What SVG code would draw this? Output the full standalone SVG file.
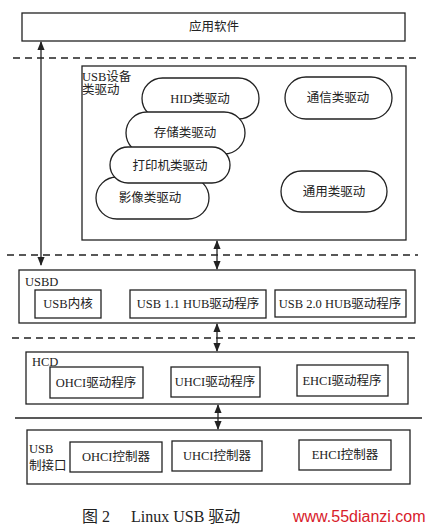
<svg xmlns="http://www.w3.org/2000/svg" width="430" height="528" viewBox="0 0 430 528">
<style>
.box{fill:#fff;stroke:#222;stroke-width:1.3}
.pill{fill:#fff;stroke:#222;stroke-width:1.3}
.t{font-family:"Liberation Serif","Noto Sans CJK SC",serif;font-size:12.5px;fill:#222}
.c{text-anchor:middle}
.dash{stroke:#222;stroke-width:1.3;stroke-dasharray:7,5;fill:none}
.line{stroke:#222;stroke-width:1.3;fill:none}
.cap{font-family:"Liberation Serif","Noto Sans CJK SC",serif;font-size:16px;fill:#222}
</style>
<defs>
<marker id="ah" viewBox="0 0 10 10" refX="9" refY="5" markerWidth="7" markerHeight="7" orient="auto-start-reverse">
<path d="M0,1 L10,5 L0,9 z" fill="#222"/>
</marker>
</defs>
<rect width="430" height="528" fill="#fff"/>

<g id="layers">
<line class="dash" x1="13" y1="58" x2="416" y2="58"/>
<line class="dash" x1="7" y1="255" x2="418" y2="255"/>
<line class="dash" x1="12" y1="338" x2="415" y2="338"/>
<line class="line" x1="15" y1="418" x2="422" y2="418"/>
</g>

<g id="app">
<rect class="box" x="22" y="13" width="383" height="28"/>
<text class="t c" x="214" y="31">应用软件</text>
</g>

<g id="device-class">
<rect class="box" x="82" y="66" width="324" height="174"/>
<text class="t" x="82" y="81">USB设备</text>
<text class="t" x="82" y="94">类驱动</text>
</g>
<g id="hid">
<rect class="pill" x="142" y="78" width="117" height="41" rx="20.5"/>
<text class="t c" x="200" y="103">HID类驱动</text>
</g>
<g id="comm">
<rect class="pill" x="285" y="77" width="107" height="42" rx="21"/>
<text class="t c" x="338" y="102">通信类驱动</text>
</g>
<g id="storage">
<rect class="pill" x="126" y="112" width="119" height="42" rx="21"/>
<text class="t c" x="185" y="137">存储类驱动</text>
</g>
<g id="imaging">
<rect class="pill" x="96" y="177" width="113" height="42" rx="21"/>
<text class="t c" x="150" y="202">影像类驱动</text>
</g>
<g id="printer">
<rect class="pill" x="110" y="147" width="120" height="36" rx="18"/>
<text class="t c" x="170" y="170">打印机类驱动</text>
</g>
<g id="general">
<rect class="pill" x="281" y="171" width="106" height="41" rx="20.5"/>
<text class="t c" x="334" y="196">通用类驱动</text>
</g>

<g id="usbd">
<rect class="box" x="19" y="270" width="396" height="53"/>
<text class="t" x="25" y="286">USBD</text>
</g>
<g id="usb-core">
<rect class="box" x="35" y="290" width="66" height="28"/>
<text class="t c" x="68" y="308">USB内核</text>
</g>
<g id="hub11">
<rect class="box" x="130" y="290" width="136" height="28"/>
<text class="t c" x="198" y="308">USB 1.1 HUB驱动程序</text>
</g>
<g id="hub20">
<rect class="box" x="275" y="290" width="131" height="27"/>
<text class="t c" x="340" y="308">USB 2.0 HUB驱动程序</text>
</g>

<g id="hcd">
<rect class="box" x="26" y="352" width="382" height="52"/>
<text class="t" x="32" y="366">HCD</text>
</g>
<g id="ohci-drv">
<rect class="box" x="50" y="367" width="93" height="31"/>
<text class="t c" x="96" y="387">OHCI驱动程序</text>
</g>
<g id="uhci-drv">
<rect class="box" x="171" y="367" width="89" height="30"/>
<text class="t c" x="215" y="386">UHCI驱动程序</text>
</g>
<g id="ehci-drv">
<rect class="box" x="297" y="365" width="91" height="31"/>
<text class="t c" x="342" y="385">EHCI驱动程序</text>
</g>

<g id="usb-if">
<rect class="box" x="27" y="430" width="383" height="54"/>
<text class="t" x="29" y="453">USB</text>
<text class="t" x="29" y="470">制接口</text>
</g>
<g id="ohci-ctl">
<rect class="box" x="70" y="442" width="92" height="30"/>
<text class="t c" x="116" y="461">OHCI控制器</text>
</g>
<g id="uhci-ctl">
<rect class="box" x="172" y="441" width="90" height="30"/>
<text class="t c" x="217" y="460">UHCI控制器</text>
</g>
<g id="ehci-ctl">
<rect class="box" x="299" y="440" width="92" height="30"/>
<text class="t c" x="345" y="459">EHCI控制器</text>
</g>

<g id="connectors">
<line class="line" x1="41" y1="42" x2="41" y2="265" marker-start="url(#ah)" marker-end="url(#ah)"/>
<line class="line" x1="217" y1="241" x2="217" y2="269" marker-start="url(#ah)" marker-end="url(#ah)"/>
<line class="line" x1="217" y1="324" x2="217" y2="351" marker-start="url(#ah)" marker-end="url(#ah)"/>
<line class="line" x1="218" y1="405" x2="218" y2="429" marker-start="url(#ah)" marker-end="url(#ah)"/>
</g>

<g id="caption">
<text class="cap" x="82" y="522">图 2</text>
<text class="cap" x="131" y="522">Linux USB 驱动</text>
<text x="293" y="522" font-family="Liberation Sans,Arial,sans-serif" font-size="16" fill="#d8202a">www.55dianzi.com</text>
</g>
</svg>
